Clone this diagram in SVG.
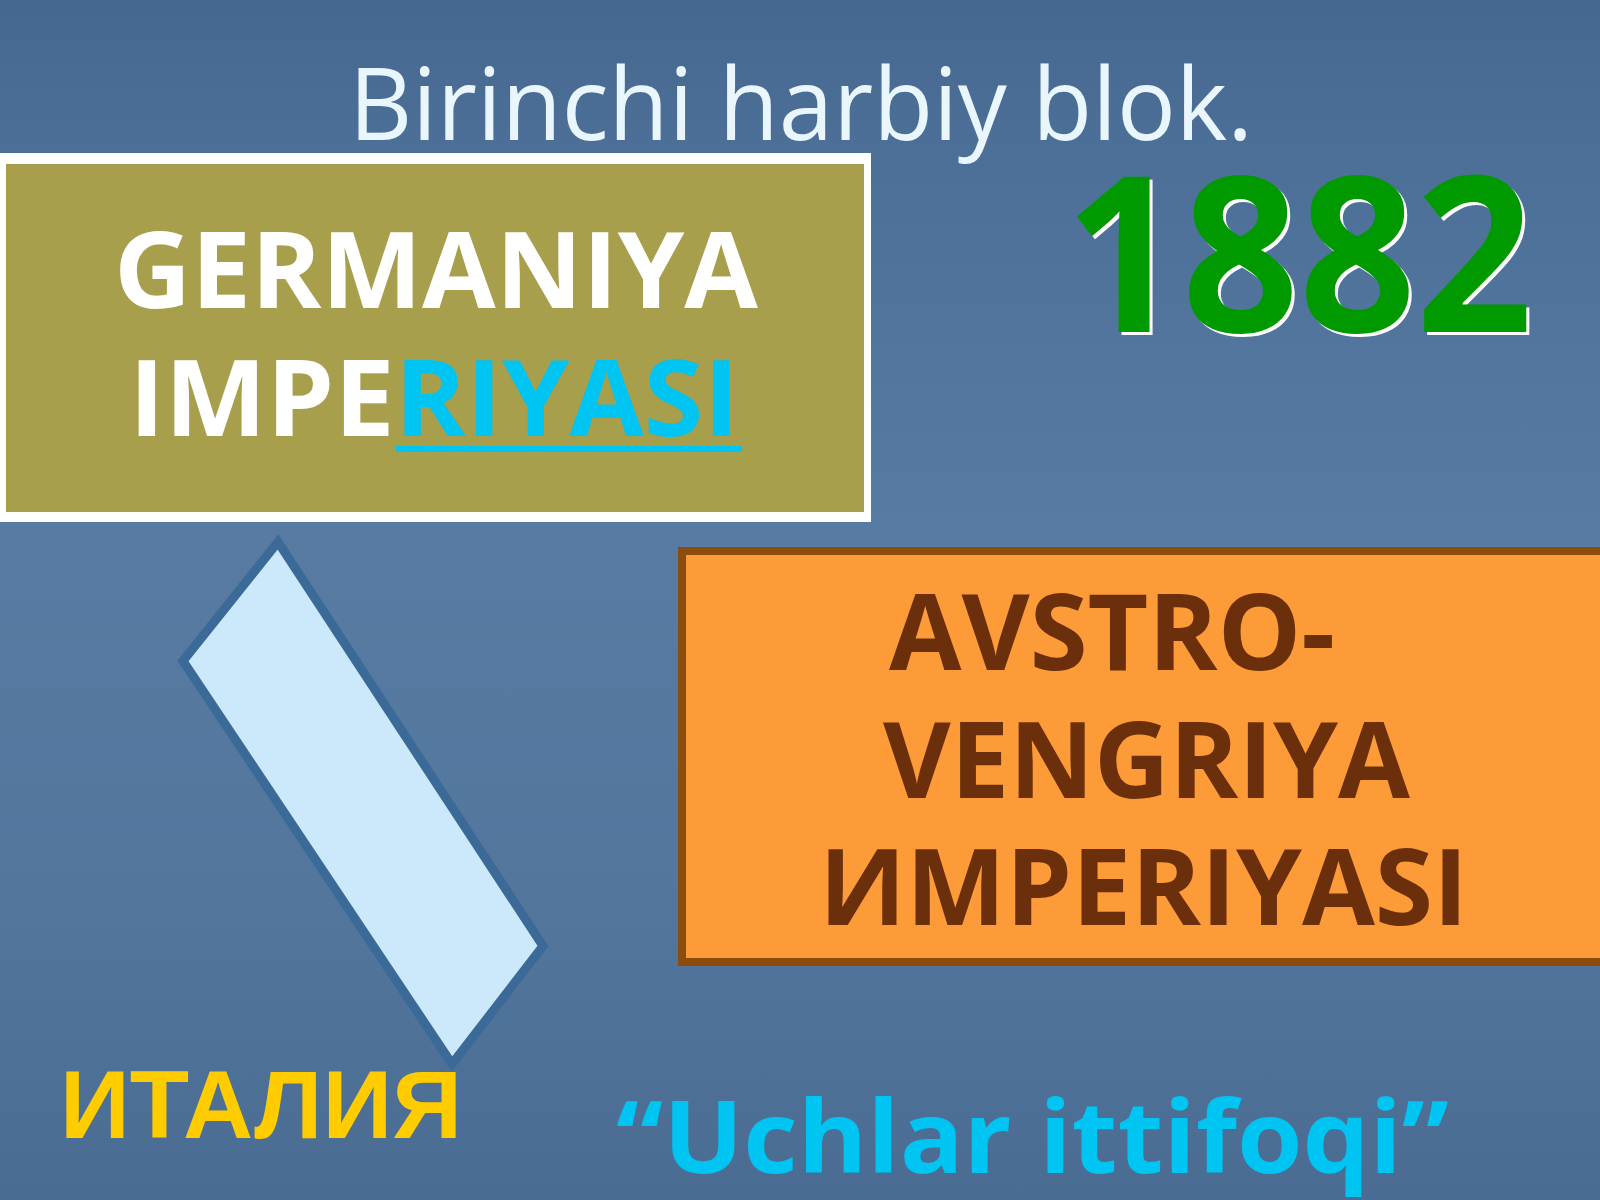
<svg xmlns="http://www.w3.org/2000/svg" width="1600" height="1200" viewBox="0 0 1600 1200">
  <defs>
    <linearGradient id="bg" x1="0" y1="0" x2="0" y2="1">
      <stop offset="0" stop-color="#456790"/>
      <stop offset="0.12" stop-color="#4c6f97"/>
      <stop offset="0.45" stop-color="#577ba2"/>
      <stop offset="0.75" stop-color="#53769d"/>
      <stop offset="1" stop-color="#4a6c93"/>
    </linearGradient>
    <style>
      .bold { font-family: "Open Sans", "DejaVu Sans", sans-serif; font-weight: 700; }
      .de { fill: #ffffff; font-size: 106px; }
      .au { fill: #6b300b; font-size: 105px; }
      .cyan { fill: #00c4f2; }
    </style>
  </defs>

  <rect x="0" y="0" width="1600" height="1200" fill="url(#bg)"/>

  <g id="title">
    <text x="801" y="140" text-anchor="middle" font-family="'Open Sans', 'DejaVu Sans', sans-serif" font-size="100" fill="#eaf6fd" textLength="904" lengthAdjust="spacingAndGlyphs">Birinchi harbiy blok.</text>
  </g>

  <g id="connectors">
    <polygon points="278,542 543,946 452,1064 183,661" fill="#cce9fc" stroke="#3c6a98" stroke-width="9" stroke-linejoin="miter"/>
  </g>

  <g id="germaniya">
    <rect x="0" y="153" width="871" height="369" fill="#ffffff"/>
    <rect x="6" y="164" width="858" height="348" fill="#a79f4c"/>
    <text class="bold de" x="114" y="308" textLength="644" lengthAdjust="spacingAndGlyphs">GERMANIYA</text>
    <text class="bold de" x="129" y="436" textLength="610" lengthAdjust="spacingAndGlyphs">IMPE<tspan class="cyan">RIYASI</tspan></text>
    <rect x="396" y="446" width="346" height="6" fill="#00c4f2"/>
  </g>

  <g id="year">
    <text class="bold" x="1068" y="335" font-size="218" fill="#ffffff" textLength="468" lengthAdjust="spacingAndGlyphs">1882</text>
    <text class="bold" x="1065" y="332" font-size="218" fill="#009a00" textLength="468" lengthAdjust="spacingAndGlyphs">1882</text>
  </g>

  <g id="avstro-vengriya">
    <rect x="682" y="551" width="924" height="411" fill="#fd9b38" stroke="#8b4c0c" stroke-width="8"/>
    <text class="bold au" x="889" y="670" textLength="446" lengthAdjust="spacingAndGlyphs">AVSTRO-</text>
    <text class="bold au" x="883" y="798" textLength="527" lengthAdjust="spacingAndGlyphs">VENGRIYA</text>
    <text class="bold au" x="819" y="925" textLength="649" lengthAdjust="spacingAndGlyphs">ИMPERIYASI</text>
  </g>

  <g id="italiya">
    <text x="60" y="1138" font-family="'Liberation Sans', Arial, sans-serif" font-weight="700" font-size="96" fill="#ffcc00" textLength="402" lengthAdjust="spacingAndGlyphs">ИТАЛИЯ</text>
  </g>

  <g id="uchlar-ittifoqi">
    <text class="bold cyan" x="616" y="1173" font-size="100" textLength="833" lengthAdjust="spacingAndGlyphs">“Uchlar ittifoqi”</text>
  </g>
</svg>
